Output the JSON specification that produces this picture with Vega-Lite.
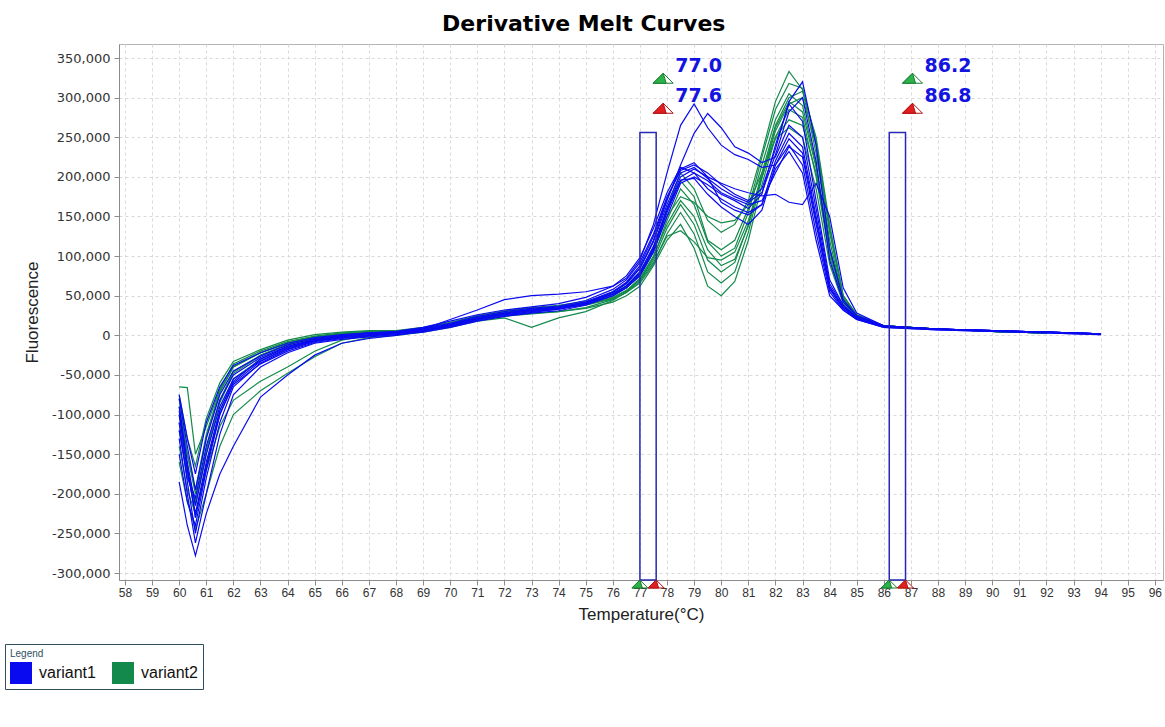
{
"$schema": "https://vega.github.io/schema/vega-lite/v6.json",
"width": 1044, "height": 536,
"autosize": {"type": "none"},
"padding": {"left": 119, "top": 44, "right": 2, "bottom": 147},
"background": "white",
"title": {"text": "Derivative Melt Curves", "font": "DejaVu Sans", "fontSize": 22, "fontWeight": "bold", "color": "#000000", "anchor": "middle", "frame": "bounds", "offset": 8},
"config": {
  "view": {"stroke": "#b4b4b4", "strokeWidth": 1},
  "axis": {"gridColor": "#d9d9d9", "gridDash": [3, 3], "gridWidth": 1, "domainColor": "#8c8c8c", "tickColor": "#8c8c8c", "tickSize": 5, "labelColor": "#333333", "titleColor": "#222222", "titleFontWeight": "normal", "titleFont": "Liberation Sans"}
},
"datasets": {
"curves": [{"c":1,"v":"variant2"},{"c":2,"v":"variant2"},{"c":3,"v":"variant2"},{"c":4,"v":"variant2"},{"c":5,"v":"variant2"},{"c":6,"v":"variant2"},{"c":7,"v":"variant2"},{"c":8,"v":"variant2"},{"c":9,"v":"variant2"},{"c":10,"v":"variant1"},{"c":11,"v":"variant1"},{"c":12,"v":"variant1"},{"c":13,"v":"variant1"},{"c":14,"v":"variant1"},{"c":15,"v":"variant1"},{"c":16,"v":"variant1"},{"c":17,"v":"variant1"},{"c":18,"v":"variant1"},{"c":19,"v":"variant1"}],
"regions": [{"lo":77.0,"hi":77.6},{"lo":86.2,"hi":86.8}],
"markers": [{"label":"77.0","t":77.0,"hi":77.6,"kind":"start"},{"label":"77.6","t":77.6,"hi":77.6,"kind":"end"},{"label":"86.2","t":86.2,"hi":86.8,"kind":"start"},{"label":"86.8","t":86.8,"hi":86.8,"kind":"end"}],
"melt": [
{"c":1,"t":60,"f":-80000},{"c":1,"t":60.3,"f":-150000},{"c":1,"t":60.6,"f":-200000},{"c":1,"t":61,"f":-130000},{"c":1,"t":61.5,"f":-72000},{"c":1,"t":62,"f":-40000},{"c":1,"t":63,"f":-22000},{"c":1,"t":64,"f":-9000},{"c":1,"t":65,"f":-2000},{"c":1,"t":66,"f":2000},{"c":1,"t":67,"f":4000},{"c":1,"t":68,"f":4000},{"c":1,"t":69,"f":8000},{"c":1,"t":70,"f":14000},{"c":1,"t":71,"f":22000},{"c":1,"t":72,"f":28000},{"c":1,"t":73,"f":32000},{"c":1,"t":74,"f":35000},{"c":1,"t":75,"f":40000},{"c":1,"t":76,"f":50000},{"c":1,"t":76.5,"f":60000},{"c":1,"t":77,"f":75000},{"c":1,"t":77.5,"f":105000},{"c":1,"t":78,"f":160000},{"c":1,"t":78.5,"f":205000},{"c":1,"t":79,"f":185000},{"c":1,"t":79.5,"f":145000},{"c":1,"t":80,"f":130000},{"c":1,"t":80.5,"f":140000},{"c":1,"t":81,"f":170000},{"c":1,"t":81.5,"f":230000},{"c":1,"t":82,"f":295000},{"c":1,"t":82.5,"f":333000},{"c":1,"t":83,"f":310000},{"c":1,"t":83.5,"f":230000},{"c":1,"t":84,"f":120000},{"c":1,"t":84.5,"f":45000},{"c":1,"t":85,"f":25000},{"c":1,"t":86,"f":12000},{"c":1,"t":88,"f":8000},{"c":1,"t":90,"f":5000},{"c":1,"t":92,"f":3000},
{"c":2,"t":60,"f":-65000},{"c":2,"t":60.3,"f":-66000},{"c":2,"t":60.6,"f":-150000},{"c":2,"t":61,"f":-115000},{"c":2,"t":61.5,"f":-68000},{"c":2,"t":62,"f":-36000},{"c":2,"t":63,"f":-20000},{"c":2,"t":64,"f":-8000},{"c":2,"t":65,"f":-1000},{"c":2,"t":66,"f":3000},{"c":2,"t":67,"f":5000},{"c":2,"t":68,"f":4000},{"c":2,"t":69,"f":7000},{"c":2,"t":70,"f":12000},{"c":2,"t":71,"f":20000},{"c":2,"t":72,"f":25000},{"c":2,"t":73,"f":28000},{"c":2,"t":74,"f":30000},{"c":2,"t":75,"f":34000},{"c":2,"t":76,"f":42000},{"c":2,"t":76.5,"f":50000},{"c":2,"t":77,"f":62000},{"c":2,"t":77.5,"f":88000},{"c":2,"t":78,"f":120000},{"c":2,"t":78.5,"f":140000},{"c":2,"t":79,"f":110000},{"c":2,"t":79.5,"f":62000},{"c":2,"t":80,"f":50000},{"c":2,"t":80.5,"f":68000},{"c":2,"t":81,"f":120000},{"c":2,"t":81.5,"f":190000},{"c":2,"t":82,"f":250000},{"c":2,"t":82.5,"f":285000},{"c":2,"t":83,"f":275000},{"c":2,"t":83.5,"f":200000},{"c":2,"t":84,"f":100000},{"c":2,"t":84.5,"f":42000},{"c":2,"t":85,"f":24000},{"c":2,"t":86,"f":12000},{"c":2,"t":88,"f":8000},{"c":2,"t":90,"f":5000},{"c":2,"t":92,"f":3000},
{"c":3,"t":60,"f":-160000},{"c":3,"t":60.3,"f":-210000},{"c":3,"t":60.6,"f":-245000},{"c":3,"t":61,"f":-200000},{"c":3,"t":61.5,"f":-140000},{"c":3,"t":62,"f":-100000},{"c":3,"t":63,"f":-70000},{"c":3,"t":64,"f":-48000},{"c":3,"t":65,"f":-27000},{"c":3,"t":66,"f":-10000},{"c":3,"t":67,"f":-3000},{"c":3,"t":68,"f":0},{"c":3,"t":69,"f":4000},{"c":3,"t":70,"f":10000},{"c":3,"t":71,"f":18000},{"c":3,"t":72,"f":22000},{"c":3,"t":73,"f":10000},{"c":3,"t":74,"f":22000},{"c":3,"t":75,"f":30000},{"c":3,"t":76,"f":44000},{"c":3,"t":76.5,"f":55000},{"c":3,"t":77,"f":70000},{"c":3,"t":77.5,"f":95000},{"c":3,"t":78,"f":135000},{"c":3,"t":78.5,"f":165000},{"c":3,"t":79,"f":140000},{"c":3,"t":79.5,"f":95000},{"c":3,"t":80,"f":80000},{"c":3,"t":80.5,"f":92000},{"c":3,"t":81,"f":140000},{"c":3,"t":81.5,"f":205000},{"c":3,"t":82,"f":265000},{"c":3,"t":82.5,"f":300000},{"c":3,"t":83,"f":308000},{"c":3,"t":83.5,"f":250000},{"c":3,"t":84,"f":140000},{"c":3,"t":84.5,"f":50000},{"c":3,"t":85,"f":26000},{"c":3,"t":86,"f":12000},{"c":3,"t":88,"f":8000},{"c":3,"t":90,"f":5000},{"c":3,"t":92,"f":3000},
{"c":4,"t":60,"f":-120000},{"c":4,"t":60.3,"f":-175000},{"c":4,"t":60.6,"f":-215000},{"c":4,"t":61,"f":-150000},{"c":4,"t":61.5,"f":-85000},{"c":4,"t":62,"f":-48000},{"c":4,"t":63,"f":-26000},{"c":4,"t":64,"f":-12000},{"c":4,"t":65,"f":-4000},{"c":4,"t":66,"f":1000},{"c":4,"t":67,"f":4000},{"c":4,"t":68,"f":5000},{"c":4,"t":69,"f":9000},{"c":4,"t":70,"f":15000},{"c":4,"t":71,"f":23000},{"c":4,"t":72,"f":29000},{"c":4,"t":73,"f":33000},{"c":4,"t":74,"f":36000},{"c":4,"t":75,"f":40000},{"c":4,"t":76,"f":48000},{"c":4,"t":76.5,"f":57000},{"c":4,"t":77,"f":70000},{"c":4,"t":77.5,"f":98000},{"c":4,"t":78,"f":145000},{"c":4,"t":78.5,"f":185000},{"c":4,"t":79,"f":165000},{"c":4,"t":79.5,"f":118000},{"c":4,"t":80,"f":100000},{"c":4,"t":80.5,"f":110000},{"c":4,"t":81,"f":155000},{"c":4,"t":81.5,"f":215000},{"c":4,"t":82,"f":272000},{"c":4,"t":82.5,"f":305000},{"c":4,"t":83,"f":290000},{"c":4,"t":83.5,"f":215000},{"c":4,"t":84,"f":110000},{"c":4,"t":84.5,"f":44000},{"c":4,"t":85,"f":24000},{"c":4,"t":86,"f":12000},{"c":4,"t":88,"f":8000},{"c":4,"t":90,"f":5000},{"c":4,"t":92,"f":3000},
{"c":5,"t":60,"f":-100000},{"c":5,"t":60.3,"f":-165000},{"c":5,"t":60.6,"f":-230000},{"c":5,"t":61,"f":-165000},{"c":5,"t":61.5,"f":-95000},{"c":5,"t":62,"f":-55000},{"c":5,"t":63,"f":-30000},{"c":5,"t":64,"f":-14000},{"c":5,"t":65,"f":-5000},{"c":5,"t":66,"f":0},{"c":5,"t":67,"f":3000},{"c":5,"t":68,"f":4000},{"c":5,"t":69,"f":8000},{"c":5,"t":70,"f":13000},{"c":5,"t":71,"f":21000},{"c":5,"t":72,"f":27000},{"c":5,"t":73,"f":31000},{"c":5,"t":74,"f":34000},{"c":5,"t":75,"f":38000},{"c":5,"t":76,"f":46000},{"c":5,"t":76.5,"f":54000},{"c":5,"t":77,"f":66000},{"c":5,"t":77.5,"f":90000},{"c":5,"t":78,"f":128000},{"c":5,"t":78.5,"f":155000},{"c":5,"t":79,"f":128000},{"c":5,"t":79.5,"f":80000},{"c":5,"t":80,"f":66000},{"c":5,"t":80.5,"f":80000},{"c":5,"t":81,"f":130000},{"c":5,"t":81.5,"f":198000},{"c":5,"t":82,"f":258000},{"c":5,"t":82.5,"f":292000},{"c":5,"t":83,"f":300000},{"c":5,"t":83.5,"f":240000},{"c":5,"t":84,"f":130000},{"c":5,"t":84.5,"f":48000},{"c":5,"t":85,"f":25000},{"c":5,"t":86,"f":12000},{"c":5,"t":88,"f":8000},{"c":5,"t":90,"f":5000},{"c":5,"t":92,"f":3000},
{"c":6,"t":60,"f":-90000},{"c":6,"t":60.3,"f":-150000},{"c":6,"t":60.6,"f":-195000},{"c":6,"t":61,"f":-125000},{"c":6,"t":61.5,"f":-70000},{"c":6,"t":62,"f":-40000},{"c":6,"t":63,"f":-22000},{"c":6,"t":64,"f":-10000},{"c":6,"t":65,"f":-2000},{"c":6,"t":66,"f":2000},{"c":6,"t":67,"f":4000},{"c":6,"t":68,"f":5000},{"c":6,"t":69,"f":9000},{"c":6,"t":70,"f":16000},{"c":6,"t":71,"f":25000},{"c":6,"t":72,"f":31000},{"c":6,"t":73,"f":35000},{"c":6,"t":74,"f":38000},{"c":6,"t":75,"f":43000},{"c":6,"t":76,"f":52000},{"c":6,"t":76.5,"f":62000},{"c":6,"t":77,"f":78000},{"c":6,"t":77.5,"f":108000},{"c":6,"t":78,"f":150000},{"c":6,"t":78.5,"f":175000},{"c":6,"t":79,"f":168000},{"c":6,"t":79.5,"f":150000},{"c":6,"t":80,"f":142000},{"c":6,"t":80.5,"f":145000},{"c":6,"t":81,"f":165000},{"c":6,"t":81.5,"f":205000},{"c":6,"t":82,"f":248000},{"c":6,"t":82.5,"f":262000},{"c":6,"t":83,"f":250000},{"c":6,"t":83.5,"f":185000},{"c":6,"t":84,"f":90000},{"c":6,"t":84.5,"f":40000},{"c":6,"t":85,"f":23000},{"c":6,"t":86,"f":12000},{"c":6,"t":88,"f":8000},{"c":6,"t":90,"f":5000},{"c":6,"t":92,"f":3000},
{"c":7,"t":60,"f":-140000},{"c":7,"t":60.3,"f":-195000},{"c":7,"t":60.6,"f":-225000},{"c":7,"t":61,"f":-170000},{"c":7,"t":61.5,"f":-115000},{"c":7,"t":62,"f":-82000},{"c":7,"t":63,"f":-58000},{"c":7,"t":64,"f":-40000},{"c":7,"t":65,"f":-20000},{"c":7,"t":66,"f":-6000},{"c":7,"t":67,"f":0},{"c":7,"t":68,"f":2000},{"c":7,"t":69,"f":6000},{"c":7,"t":70,"f":12000},{"c":7,"t":71,"f":19000},{"c":7,"t":72,"f":24000},{"c":7,"t":73,"f":27000},{"c":7,"t":74,"f":30000},{"c":7,"t":75,"f":35000},{"c":7,"t":76,"f":45000},{"c":7,"t":76.5,"f":54000},{"c":7,"t":77,"f":68000},{"c":7,"t":77.5,"f":92000},{"c":7,"t":78,"f":125000},{"c":7,"t":78.5,"f":132000},{"c":7,"t":79,"f":118000},{"c":7,"t":79.5,"f":98000},{"c":7,"t":80,"f":95000},{"c":7,"t":80.5,"f":105000},{"c":7,"t":81,"f":145000},{"c":7,"t":81.5,"f":200000},{"c":7,"t":82,"f":250000},{"c":7,"t":82.5,"f":272000},{"c":7,"t":83,"f":265000},{"c":7,"t":83.5,"f":205000},{"c":7,"t":84,"f":105000},{"c":7,"t":84.5,"f":44000},{"c":7,"t":85,"f":24000},{"c":7,"t":86,"f":12000},{"c":7,"t":88,"f":8000},{"c":7,"t":90,"f":5000},{"c":7,"t":92,"f":3000},
{"c":8,"t":60,"f":-75000},{"c":8,"t":60.3,"f":-130000},{"c":8,"t":60.6,"f":-165000},{"c":8,"t":61,"f":-105000},{"c":8,"t":61.5,"f":-60000},{"c":8,"t":62,"f":-33000},{"c":8,"t":63,"f":-18000},{"c":8,"t":64,"f":-6000},{"c":8,"t":65,"f":1000},{"c":8,"t":66,"f":4000},{"c":8,"t":67,"f":6000},{"c":8,"t":68,"f":6000},{"c":8,"t":69,"f":10000},{"c":8,"t":70,"f":16000},{"c":8,"t":71,"f":24000},{"c":8,"t":72,"f":30000},{"c":8,"t":73,"f":34000},{"c":8,"t":74,"f":37000},{"c":8,"t":75,"f":42000},{"c":8,"t":76,"f":53000},{"c":8,"t":76.5,"f":63000},{"c":8,"t":77,"f":80000},{"c":8,"t":77.5,"f":112000},{"c":8,"t":78,"f":160000},{"c":8,"t":78.5,"f":195000},{"c":8,"t":79,"f":175000},{"c":8,"t":79.5,"f":120000},{"c":8,"t":80,"f":108000},{"c":8,"t":80.5,"f":120000},{"c":8,"t":81,"f":160000},{"c":8,"t":81.5,"f":225000},{"c":8,"t":82,"f":285000},{"c":8,"t":82.5,"f":318000},{"c":8,"t":83,"f":312000},{"c":8,"t":83.5,"f":245000},{"c":8,"t":84,"f":135000},{"c":8,"t":84.5,"f":50000},{"c":8,"t":85,"f":26000},{"c":8,"t":86,"f":12000},{"c":8,"t":88,"f":8000},{"c":8,"t":90,"f":5000},{"c":8,"t":92,"f":3000},
{"c":9,"t":60,"f":-110000},{"c":9,"t":60.3,"f":-170000},{"c":9,"t":60.6,"f":-210000},{"c":9,"t":61,"f":-145000},{"c":9,"t":61.5,"f":-82000},{"c":9,"t":62,"f":-46000},{"c":9,"t":63,"f":-25000},{"c":9,"t":64,"f":-11000},{"c":9,"t":65,"f":-3000},{"c":9,"t":66,"f":1000},{"c":9,"t":67,"f":3000},{"c":9,"t":68,"f":4000},{"c":9,"t":69,"f":8000},{"c":9,"t":70,"f":14000},{"c":9,"t":71,"f":22000},{"c":9,"t":72,"f":28000},{"c":9,"t":73,"f":32000},{"c":9,"t":74,"f":35000},{"c":9,"t":75,"f":39000},{"c":9,"t":76,"f":47000},{"c":9,"t":76.5,"f":56000},{"c":9,"t":77,"f":72000},{"c":9,"t":77.5,"f":100000},{"c":9,"t":78,"f":140000},{"c":9,"t":78.5,"f":170000},{"c":9,"t":79,"f":150000},{"c":9,"t":79.5,"f":108000},{"c":9,"t":80,"f":88000},{"c":9,"t":80.5,"f":96000},{"c":9,"t":81,"f":138000},{"c":9,"t":81.5,"f":200000},{"c":9,"t":82,"f":262000},{"c":9,"t":82.5,"f":295000},{"c":9,"t":83,"f":282000},{"c":9,"t":83.5,"f":212000},{"c":9,"t":84,"f":108000},{"c":9,"t":84.5,"f":43000},{"c":9,"t":85,"f":24000},{"c":9,"t":86,"f":12000},{"c":9,"t":88,"f":8000},{"c":9,"t":90,"f":5000},{"c":9,"t":92,"f":3000},
{"c":10,"t":60,"f":-185000},{"c":10,"t":60.3,"f":-240000},{"c":10,"t":60.6,"f":-278000},{"c":10,"t":61,"f":-225000},{"c":10,"t":61.5,"f":-175000},{"c":10,"t":62,"f":-140000},{"c":10,"t":63,"f":-78000},{"c":10,"t":64,"f":-50000},{"c":10,"t":65,"f":-25000},{"c":10,"t":66,"f":-10000},{"c":10,"t":67,"f":-4000},{"c":10,"t":68,"f":0},{"c":10,"t":69,"f":5000},{"c":10,"t":70,"f":12000},{"c":10,"t":71,"f":20000},{"c":10,"t":72,"f":26000},{"c":10,"t":73,"f":30000},{"c":10,"t":74,"f":33000},{"c":10,"t":75,"f":40000},{"c":10,"t":76,"f":52000},{"c":10,"t":76.5,"f":62000},{"c":10,"t":77,"f":78000},{"c":10,"t":77.5,"f":108000},{"c":10,"t":78,"f":155000},{"c":10,"t":78.5,"f":195000},{"c":10,"t":79,"f":205000},{"c":10,"t":79.5,"f":195000},{"c":10,"t":80,"f":180000},{"c":10,"t":80.5,"f":172000},{"c":10,"t":81,"f":165000},{"c":10,"t":81.5,"f":170000},{"c":10,"t":82,"f":205000},{"c":10,"t":82.5,"f":238000},{"c":10,"t":83,"f":225000},{"c":10,"t":83.5,"f":140000},{"c":10,"t":84,"f":60000},{"c":10,"t":84.5,"f":35000},{"c":10,"t":85,"f":22000},{"c":10,"t":86,"f":11000},{"c":10,"t":88,"f":8000},{"c":10,"t":90,"f":6000},{"c":10,"t":92,"f":4000},{"c":10,"t":94,"f":2000},
{"c":11,"t":60,"f":-90000},{"c":11,"t":60.3,"f":-160000},{"c":11,"t":60.6,"f":-215000},{"c":11,"t":61,"f":-150000},{"c":11,"t":61.5,"f":-90000},{"c":11,"t":62,"f":-55000},{"c":11,"t":63,"f":-32000},{"c":11,"t":64,"f":-16000},{"c":11,"t":65,"f":-6000},{"c":11,"t":66,"f":-2000},{"c":11,"t":67,"f":1000},{"c":11,"t":68,"f":3000},{"c":11,"t":69,"f":8000},{"c":11,"t":70,"f":20000},{"c":11,"t":71,"f":32000},{"c":11,"t":72,"f":45000},{"c":11,"t":73,"f":50000},{"c":11,"t":74,"f":52000},{"c":11,"t":75,"f":55000},{"c":11,"t":76,"f":62000},{"c":11,"t":76.5,"f":72000},{"c":11,"t":77,"f":95000},{"c":11,"t":77.5,"f":140000},{"c":11,"t":78,"f":205000},{"c":11,"t":78.5,"f":265000},{"c":11,"t":79,"f":292000},{"c":11,"t":79.5,"f":262000},{"c":11,"t":80,"f":240000},{"c":11,"t":80.5,"f":228000},{"c":11,"t":81,"f":222000},{"c":11,"t":81.5,"f":212000},{"c":11,"t":82,"f":215000},{"c":11,"t":82.5,"f":240000},{"c":11,"t":83,"f":215000},{"c":11,"t":83.5,"f":130000},{"c":11,"t":84,"f":55000},{"c":11,"t":84.5,"f":32000},{"c":11,"t":85,"f":20000},{"c":11,"t":86,"f":10000},{"c":11,"t":88,"f":7000},{"c":11,"t":90,"f":5000},{"c":11,"t":92,"f":3000},{"c":11,"t":94,"f":1000},
{"c":12,"t":60,"f":-110000},{"c":12,"t":60.3,"f":-185000},{"c":12,"t":60.6,"f":-250000},{"c":12,"t":61,"f":-180000},{"c":12,"t":61.5,"f":-110000},{"c":12,"t":62,"f":-65000},{"c":12,"t":63,"f":-35000},{"c":12,"t":64,"f":-18000},{"c":12,"t":65,"f":-8000},{"c":12,"t":66,"f":-3000},{"c":12,"t":67,"f":0},{"c":12,"t":68,"f":2000},{"c":12,"t":69,"f":6000},{"c":12,"t":70,"f":14000},{"c":12,"t":71,"f":22000},{"c":12,"t":72,"f":28000},{"c":12,"t":73,"f":33000},{"c":12,"t":74,"f":36000},{"c":12,"t":75,"f":42000},{"c":12,"t":76,"f":55000},{"c":12,"t":76.5,"f":66000},{"c":12,"t":77,"f":85000},{"c":12,"t":77.5,"f":120000},{"c":12,"t":78,"f":170000},{"c":12,"t":78.5,"f":215000},{"c":12,"t":79,"f":255000},{"c":12,"t":79.5,"f":280000},{"c":12,"t":80,"f":262000},{"c":12,"t":80.5,"f":238000},{"c":12,"t":81,"f":230000},{"c":12,"t":81.5,"f":218000},{"c":12,"t":82,"f":225000},{"c":12,"t":82.5,"f":265000},{"c":12,"t":83,"f":250000},{"c":12,"t":83.5,"f":160000},{"c":12,"t":84,"f":65000},{"c":12,"t":84.5,"f":38000},{"c":12,"t":85,"f":22000},{"c":12,"t":86,"f":11000},{"c":12,"t":88,"f":8000},{"c":12,"t":90,"f":6000},{"c":12,"t":92,"f":4000},{"c":12,"t":94,"f":2000},
{"c":13,"t":60,"f":-80000},{"c":13,"t":60.3,"f":-140000},{"c":13,"t":60.6,"f":-195000},{"c":13,"t":61,"f":-130000},{"c":13,"t":61.5,"f":-75000},{"c":13,"t":62,"f":-45000},{"c":13,"t":63,"f":-26000},{"c":13,"t":64,"f":-12000},{"c":13,"t":65,"f":-4000},{"c":13,"t":66,"f":0},{"c":13,"t":67,"f":3000},{"c":13,"t":68,"f":4000},{"c":13,"t":69,"f":9000},{"c":13,"t":70,"f":15000},{"c":13,"t":71,"f":24000},{"c":13,"t":72,"f":30000},{"c":13,"t":73,"f":34000},{"c":13,"t":74,"f":37000},{"c":13,"t":75,"f":44000},{"c":13,"t":76,"f":58000},{"c":13,"t":76.5,"f":70000},{"c":13,"t":77,"f":92000},{"c":13,"t":77.5,"f":128000},{"c":13,"t":78,"f":175000},{"c":13,"t":78.5,"f":208000},{"c":13,"t":79,"f":215000},{"c":13,"t":79.5,"f":205000},{"c":13,"t":80,"f":190000},{"c":13,"t":80.5,"f":178000},{"c":13,"t":81,"f":170000},{"c":13,"t":81.5,"f":185000},{"c":13,"t":82,"f":235000},{"c":13,"t":82.5,"f":295000},{"c":13,"t":83,"f":320000},{"c":13,"t":83.5,"f":240000},{"c":13,"t":84,"f":110000},{"c":13,"t":84.5,"f":45000},{"c":13,"t":85,"f":25000},{"c":13,"t":86,"f":12000},{"c":13,"t":88,"f":8000},{"c":13,"t":90,"f":6000},{"c":13,"t":92,"f":4000},{"c":13,"t":94,"f":2000},
{"c":14,"t":60,"f":-130000},{"c":14,"t":60.3,"f":-200000},{"c":14,"t":60.6,"f":-262000},{"c":14,"t":61,"f":-200000},{"c":14,"t":61.5,"f":-125000},{"c":14,"t":62,"f":-75000},{"c":14,"t":63,"f":-40000},{"c":14,"t":64,"f":-22000},{"c":14,"t":65,"f":-10000},{"c":14,"t":66,"f":-5000},{"c":14,"t":67,"f":-2000},{"c":14,"t":68,"f":1000},{"c":14,"t":69,"f":4000},{"c":14,"t":70,"f":10000},{"c":14,"t":71,"f":18000},{"c":14,"t":72,"f":24000},{"c":14,"t":73,"f":28000},{"c":14,"t":74,"f":31000},{"c":14,"t":75,"f":38000},{"c":14,"t":76,"f":50000},{"c":14,"t":76.5,"f":60000},{"c":14,"t":77,"f":75000},{"c":14,"t":77.5,"f":105000},{"c":14,"t":78,"f":150000},{"c":14,"t":78.5,"f":192000},{"c":14,"t":79,"f":200000},{"c":14,"t":79.5,"f":190000},{"c":14,"t":80,"f":178000},{"c":14,"t":80.5,"f":170000},{"c":14,"t":81,"f":160000},{"c":14,"t":81.5,"f":178000},{"c":14,"t":82,"f":240000},{"c":14,"t":82.5,"f":292000},{"c":14,"t":83,"f":270000},{"c":14,"t":83.5,"f":170000},{"c":14,"t":84,"f":70000},{"c":14,"t":84.5,"f":38000},{"c":14,"t":85,"f":22000},{"c":14,"t":86,"f":11000},{"c":14,"t":88,"f":8000},{"c":14,"t":90,"f":6000},{"c":14,"t":92,"f":4000},{"c":14,"t":94,"f":2000},
{"c":15,"t":60,"f":-100000},{"c":15,"t":60.3,"f":-170000},{"c":15,"t":60.6,"f":-225000},{"c":15,"t":61,"f":-160000},{"c":15,"t":61.5,"f":-95000},{"c":15,"t":62,"f":-58000},{"c":15,"t":63,"f":-30000},{"c":15,"t":64,"f":-15000},{"c":15,"t":65,"f":-6000},{"c":15,"t":66,"f":-1000},{"c":15,"t":67,"f":2000},{"c":15,"t":68,"f":4000},{"c":15,"t":69,"f":8000},{"c":15,"t":70,"f":14000},{"c":15,"t":71,"f":22000},{"c":15,"t":72,"f":28000},{"c":15,"t":73,"f":32000},{"c":15,"t":74,"f":35000},{"c":15,"t":75,"f":40000},{"c":15,"t":76,"f":52000},{"c":15,"t":76.5,"f":62000},{"c":15,"t":77,"f":80000},{"c":15,"t":77.5,"f":112000},{"c":15,"t":78,"f":160000},{"c":15,"t":78.5,"f":200000},{"c":15,"t":79,"f":210000},{"c":15,"t":79.5,"f":200000},{"c":15,"t":80,"f":192000},{"c":15,"t":80.5,"f":185000},{"c":15,"t":81,"f":180000},{"c":15,"t":81.5,"f":176000},{"c":15,"t":82,"f":178000},{"c":15,"t":82.5,"f":168000},{"c":15,"t":83,"f":165000},{"c":15,"t":83.5,"f":192000},{"c":15,"t":84,"f":150000},{"c":15,"t":84.5,"f":60000},{"c":15,"t":85,"f":28000},{"c":15,"t":86,"f":12000},{"c":15,"t":88,"f":8000},{"c":15,"t":90,"f":6000},{"c":15,"t":92,"f":4000},{"c":15,"t":94,"f":2000},
{"c":16,"t":60,"f":-75000},{"c":16,"t":60.3,"f":-130000},{"c":16,"t":60.6,"f":-175000},{"c":16,"t":61,"f":-110000},{"c":16,"t":61.5,"f":-65000},{"c":16,"t":62,"f":-38000},{"c":16,"t":63,"f":-22000},{"c":16,"t":64,"f":-10000},{"c":16,"t":65,"f":-3000},{"c":16,"t":66,"f":1000},{"c":16,"t":67,"f":3000},{"c":16,"t":68,"f":5000},{"c":16,"t":69,"f":10000},{"c":16,"t":70,"f":18000},{"c":16,"t":71,"f":26000},{"c":16,"t":72,"f":32000},{"c":16,"t":73,"f":36000},{"c":16,"t":74,"f":40000},{"c":16,"t":75,"f":48000},{"c":16,"t":76,"f":62000},{"c":16,"t":76.5,"f":75000},{"c":16,"t":77,"f":98000},{"c":16,"t":77.5,"f":135000},{"c":16,"t":78,"f":180000},{"c":16,"t":78.5,"f":212000},{"c":16,"t":79,"f":205000},{"c":16,"t":79.5,"f":185000},{"c":16,"t":80,"f":172000},{"c":16,"t":80.5,"f":162000},{"c":16,"t":81,"f":155000},{"c":16,"t":81.5,"f":165000},{"c":16,"t":82,"f":210000},{"c":16,"t":82.5,"f":232000},{"c":16,"t":83,"f":205000},{"c":16,"t":83.5,"f":120000},{"c":16,"t":84,"f":50000},{"c":16,"t":84.5,"f":32000},{"c":16,"t":85,"f":20000},{"c":16,"t":86,"f":10000},{"c":16,"t":88,"f":7000},{"c":16,"t":90,"f":5000},{"c":16,"t":92,"f":3000},{"c":16,"t":94,"f":1000},
{"c":17,"t":60,"f":-150000},{"c":17,"t":60.3,"f":-210000},{"c":17,"t":60.6,"f":-240000},{"c":17,"t":61,"f":-170000},{"c":17,"t":61.5,"f":-100000},{"c":17,"t":62,"f":-62000},{"c":17,"t":63,"f":-36000},{"c":17,"t":64,"f":-20000},{"c":17,"t":65,"f":-9000},{"c":17,"t":66,"f":-4000},{"c":17,"t":67,"f":-1000},{"c":17,"t":68,"f":2000},{"c":17,"t":69,"f":6000},{"c":17,"t":70,"f":11000},{"c":17,"t":71,"f":19000},{"c":17,"t":72,"f":25000},{"c":17,"t":73,"f":29000},{"c":17,"t":74,"f":33000},{"c":17,"t":75,"f":39000},{"c":17,"t":76,"f":50000},{"c":17,"t":76.5,"f":60000},{"c":17,"t":77,"f":76000},{"c":17,"t":77.5,"f":110000},{"c":17,"t":78,"f":158000},{"c":17,"t":78.5,"f":196000},{"c":17,"t":79,"f":198000},{"c":17,"t":79.5,"f":178000},{"c":17,"t":80,"f":162000},{"c":17,"t":80.5,"f":150000},{"c":17,"t":81,"f":140000},{"c":17,"t":81.5,"f":158000},{"c":17,"t":82,"f":215000},{"c":17,"t":82.5,"f":248000},{"c":17,"t":83,"f":230000},{"c":17,"t":83.5,"f":145000},{"c":17,"t":84,"f":58000},{"c":17,"t":84.5,"f":34000},{"c":17,"t":85,"f":21000},{"c":17,"t":86,"f":11000},{"c":17,"t":88,"f":8000},{"c":17,"t":90,"f":6000},{"c":17,"t":92,"f":4000},{"c":17,"t":94,"f":2000},
{"c":18,"t":60,"f":-120000},{"c":18,"t":60.3,"f":-180000},{"c":18,"t":60.6,"f":-205000},{"c":18,"t":61,"f":-140000},{"c":18,"t":61.5,"f":-82000},{"c":18,"t":62,"f":-50000},{"c":18,"t":63,"f":-28000},{"c":18,"t":64,"f":-14000},{"c":18,"t":65,"f":-5000},{"c":18,"t":66,"f":-1000},{"c":18,"t":67,"f":2000},{"c":18,"t":68,"f":3000},{"c":18,"t":69,"f":7000},{"c":18,"t":70,"f":13000},{"c":18,"t":71,"f":21000},{"c":18,"t":72,"f":27000},{"c":18,"t":73,"f":31000},{"c":18,"t":74,"f":34000},{"c":18,"t":75,"f":41000},{"c":18,"t":76,"f":54000},{"c":18,"t":76.5,"f":65000},{"c":18,"t":77,"f":84000},{"c":18,"t":77.5,"f":118000},{"c":18,"t":78,"f":165000},{"c":18,"t":78.5,"f":205000},{"c":18,"t":79,"f":212000},{"c":18,"t":79.5,"f":198000},{"c":18,"t":80,"f":185000},{"c":18,"t":80.5,"f":175000},{"c":18,"t":81,"f":168000},{"c":18,"t":81.5,"f":180000},{"c":18,"t":82,"f":228000},{"c":18,"t":82.5,"f":282000},{"c":18,"t":83,"f":300000},{"c":18,"t":83.5,"f":220000},{"c":18,"t":84,"f":95000},{"c":18,"t":84.5,"f":42000},{"c":18,"t":85,"f":24000},{"c":18,"t":86,"f":12000},{"c":18,"t":88,"f":8000},{"c":18,"t":90,"f":6000},{"c":18,"t":92,"f":4000},{"c":18,"t":94,"f":2000},
{"c":19,"t":60,"f":-95000},{"c":19,"t":60.3,"f":-165000},{"c":19,"t":60.6,"f":-230000},{"c":19,"t":61,"f":-165000},{"c":19,"t":61.5,"f":-100000},{"c":19,"t":62,"f":-60000},{"c":19,"t":63,"f":-33000},{"c":19,"t":64,"f":-17000},{"c":19,"t":65,"f":-7000},{"c":19,"t":66,"f":-3000},{"c":19,"t":67,"f":0},{"c":19,"t":68,"f":3000},{"c":19,"t":69,"f":7000},{"c":19,"t":70,"f":13000},{"c":19,"t":71,"f":21000},{"c":19,"t":72,"f":27000},{"c":19,"t":73,"f":31000},{"c":19,"t":74,"f":35000},{"c":19,"t":75,"f":42000},{"c":19,"t":76,"f":55000},{"c":19,"t":76.5,"f":67000},{"c":19,"t":77,"f":88000},{"c":19,"t":77.5,"f":125000},{"c":19,"t":78,"f":172000},{"c":19,"t":78.5,"f":210000},{"c":19,"t":79,"f":218000},{"c":19,"t":79.5,"f":200000},{"c":19,"t":80,"f":168000},{"c":19,"t":80.5,"f":158000},{"c":19,"t":81,"f":152000},{"c":19,"t":81.5,"f":165000},{"c":19,"t":82,"f":220000},{"c":19,"t":82.5,"f":255000},{"c":19,"t":83,"f":238000},{"c":19,"t":83.5,"f":150000},{"c":19,"t":84,"f":62000},{"c":19,"t":84.5,"f":36000},{"c":19,"t":85,"f":22000},{"c":19,"t":86,"f":11000},{"c":19,"t":88,"f":8000},{"c":19,"t":90,"f":6000},{"c":19,"t":92,"f":4000},{"c":19,"t":94,"f":2000}
]
},
"layer": [
{
  "data": {"name": "melt"},
  "transform": [{"lookup": "c", "from": {"data": {"name": "curves"}, "key": "c", "fields": ["v"]}}],
  "mark": {"type": "line", "strokeWidth": 1.2, "clip": true},
  "encoding": {
    "x": {"field": "t", "type": "quantitative", "scale": {"domain": [57.78, 96.3], "nice": false, "zero": false},
      "axis": {"title": "Temperature(°C)", "values": [58,59,60,61,62,63,64,65,66,67,68,69,70,71,72,73,74,75,76,77,78,79,80,81,82,83,84,85,86,87,88,89,90,91,92,93,94,95,96], "format": "d", "labelFont": "Liberation Sans Narrow, Liberation Sans", "labelFontSize": 12, "labelPadding": 2, "labelOverlap": false, "labelFlush": false, "titleFontSize": 17, "titlePadding": 8}},
    "y": {"field": "f", "type": "quantitative", "scale": {"domain": [-308800, 367700], "nice": false, "zero": false},
      "axis": {"title": "Fluorescence", "values": [-300000,-250000,-200000,-150000,-100000,-50000,0,50000,100000,150000,200000,250000,300000,350000], "labelExpr": "replace(format(datum.value, ','), '\u2212', '-')", "labelFont": "DejaVu Sans", "labelFontSize": 13, "labelPadding": 4, "labelOverlap": false, "titleFontSize": 17, "titlePadding": 10}},
    "color": {"field": "v", "type": "nominal", "scale": {"domain": ["variant1", "variant2"], "range": ["#0a0af0", "#138a4b"]},
      "legend": {"title": "Legend", "orient": "none", "legendX": -114, "legendY": 600, "direction": "horizontal", "symbolType": "square", "symbolSize": 484, "symbolStrokeWidth": 0, "symbolOpacity": 1, "labelFont": "Liberation Sans", "labelFontSize": 16, "labelColor": "#111111", "labelOffset": 7, "columnPadding": 16, "titleFont": "Liberation Sans", "titleFontSize": 10, "titleFontWeight": "normal", "titleColor": "#2f4f5f", "titlePadding": 3, "strokeColor": "#2f4f5f", "padding": 5,
        "encode": {"symbols": {"update": {"fill": {"scale": "color", "field": "value"}, "stroke": {"scale": "color", "field": "value"}, "opacity": {"value": 1}}}}}},
    "detail": {"field": "c", "type": "nominal"}
  }
},
{
  "data": {"name": "regions"},
  "mark": {"type": "rect", "fill": "transparent", "stroke": "#2828b4", "strokeWidth": 1.5},
  "encoding": {
    "x": {"field": "lo", "type": "quantitative", "scale": {"domain": [57.78, 96.3], "nice": false, "zero": false},
      "axis": {"title": "Temperature(°C)", "values": [58,59,60,61,62,63,64,65,66,67,68,69,70,71,72,73,74,75,76,77,78,79,80,81,82,83,84,85,86,87,88,89,90,91,92,93,94,95,96], "format": "d", "labelFont": "Liberation Sans Narrow, Liberation Sans", "labelFontSize": 12, "labelPadding": 2, "labelOverlap": false, "labelFlush": false, "titleFontSize": 17, "titlePadding": 8}},
    "x2": {"field": "hi"},
    "y": {"datum": -308800, "type": "quantitative", "scale": {"domain": [-308800, 367700], "nice": false, "zero": false},
      "axis": {"title": "Fluorescence", "values": [-300000,-250000,-200000,-150000,-100000,-50000,0,50000,100000,150000,200000,250000,300000,350000], "labelExpr": "replace(format(datum.value, ','), '\u2212', '-')", "labelFont": "DejaVu Sans", "labelFontSize": 13, "labelPadding": 4, "labelOverlap": false, "titleFontSize": 17, "titlePadding": 10}},
    "y2": {"datum": 256000}
  }
},
{
  "data": {"name": "markers"},
  "mark": {"type": "point", "shape": "M0,-0.5L1,0.5L-1,0.5Z", "size": 256, "filled": true, "fill": "white", "strokeWidth": 1, "opacity": 1, "yOffset": 4},
  "encoding": {
    "x": {"field": "t", "type": "quantitative", "scale": {"domain": [57.78, 96.3], "nice": false, "zero": false},
      "axis": {"title": "Temperature(°C)", "values": [58,59,60,61,62,63,64,65,66,67,68,69,70,71,72,73,74,75,76,77,78,79,80,81,82,83,84,85,86,87,88,89,90,91,92,93,94,95,96], "format": "d", "labelFont": "Liberation Sans Narrow, Liberation Sans", "labelFontSize": 12, "labelPadding": 2, "labelOverlap": false, "labelFlush": false, "titleFontSize": 17, "titlePadding": 8}},
    "y": {"datum": -308800, "type": "quantitative", "scale": {"domain": [-308800, 367700], "nice": false, "zero": false},
      "axis": {"title": "Fluorescence", "values": [-300000,-250000,-200000,-150000,-100000,-50000,0,50000,100000,150000,200000,250000,300000,350000], "labelExpr": "replace(format(datum.value, ','), '\u2212', '-')", "labelFont": "DejaVu Sans", "labelFontSize": 13, "labelPadding": 4, "labelOverlap": false, "titleFontSize": 17, "titlePadding": 10}},
    "stroke": {"field": "kind", "type": "nominal", "scale": {"domain": ["start", "end"], "range": ["#1a7a30", "#b01010"]}, "legend": null}
  }
},
{
  "data": {"name": "markers"},
  "mark": {"type": "point", "shape": "M0,-0.5L0.3,0.5L-1,0.5Z", "size": 256, "filled": true, "strokeWidth": 1, "opacity": 1, "yOffset": 4},
  "encoding": {
    "x": {"field": "t", "type": "quantitative", "scale": {"domain": [57.78, 96.3], "nice": false, "zero": false},
      "axis": {"title": "Temperature(°C)", "values": [58,59,60,61,62,63,64,65,66,67,68,69,70,71,72,73,74,75,76,77,78,79,80,81,82,83,84,85,86,87,88,89,90,91,92,93,94,95,96], "format": "d", "labelFont": "Liberation Sans Narrow, Liberation Sans", "labelFontSize": 12, "labelPadding": 2, "labelOverlap": false, "labelFlush": false, "titleFontSize": 17, "titlePadding": 8}},
    "y": {"datum": -308800, "type": "quantitative", "scale": {"domain": [-308800, 367700], "nice": false, "zero": false},
      "axis": {"title": "Fluorescence", "values": [-300000,-250000,-200000,-150000,-100000,-50000,0,50000,100000,150000,200000,250000,300000,350000], "labelExpr": "replace(format(datum.value, ','), '\u2212', '-')", "labelFont": "DejaVu Sans", "labelFontSize": 13, "labelPadding": 4, "labelOverlap": false, "titleFontSize": 17, "titlePadding": 10}},
    "fill": {"field": "kind", "type": "nominal", "scale": {"domain": ["start", "end"], "range": ["#2bb34a", "#e02020"]}, "legend": null},
    "stroke": {"field": "kind", "type": "nominal", "scale": {"domain": ["start", "end"], "range": ["#1a7a30", "#b01010"]}, "legend": null}
  }
},
{
  "data": {"name": "markers"},
  "transform": [{"filter": "datum.kind == 'start'"}],
  "mark": {"type": "point", "shape": "M0,-0.5L1,0.5L-1,0.5Z", "size": 400, "filled": true, "fill": "white", "stroke": "#1a7a30", "strokeWidth": 1, "opacity": 1, "xOffset": 7},
  "encoding": {
    "x": {"field": "hi", "type": "quantitative", "scale": {"domain": [57.78, 96.3], "nice": false, "zero": false},
      "axis": {"title": "Temperature(°C)", "values": [58,59,60,61,62,63,64,65,66,67,68,69,70,71,72,73,74,75,76,77,78,79,80,81,82,83,84,85,86,87,88,89,90,91,92,93,94,95,96], "format": "d", "labelFont": "Liberation Sans Narrow, Liberation Sans", "labelFontSize": 12, "labelPadding": 2, "labelOverlap": false, "labelFlush": false, "titleFontSize": 17, "titlePadding": 8}},
    "y": {"datum": 324500, "type": "quantitative", "scale": {"domain": [-308800, 367700], "nice": false, "zero": false},
      "axis": {"title": "Fluorescence", "values": [-300000,-250000,-200000,-150000,-100000,-50000,0,50000,100000,150000,200000,250000,300000,350000], "labelExpr": "replace(format(datum.value, ','), '\u2212', '-')", "labelFont": "DejaVu Sans", "labelFontSize": 13, "labelPadding": 4, "labelOverlap": false, "titleFontSize": 17, "titlePadding": 10}}
  }
},
{
  "data": {"name": "markers"},
  "transform": [{"filter": "datum.kind == 'start'"}],
  "mark": {"type": "point", "shape": "M0,-0.5L0.3,0.5L-1,0.5Z", "size": 400, "filled": true, "fill": "#2bb34a", "stroke": "#1a7a30", "strokeWidth": 1, "opacity": 1, "xOffset": 7},
  "encoding": {
    "x": {"field": "hi", "type": "quantitative", "scale": {"domain": [57.78, 96.3], "nice": false, "zero": false},
      "axis": {"title": "Temperature(°C)", "values": [58,59,60,61,62,63,64,65,66,67,68,69,70,71,72,73,74,75,76,77,78,79,80,81,82,83,84,85,86,87,88,89,90,91,92,93,94,95,96], "format": "d", "labelFont": "Liberation Sans Narrow, Liberation Sans", "labelFontSize": 12, "labelPadding": 2, "labelOverlap": false, "labelFlush": false, "titleFontSize": 17, "titlePadding": 8}},
    "y": {"datum": 324500, "type": "quantitative", "scale": {"domain": [-308800, 367700], "nice": false, "zero": false},
      "axis": {"title": "Fluorescence", "values": [-300000,-250000,-200000,-150000,-100000,-50000,0,50000,100000,150000,200000,250000,300000,350000], "labelExpr": "replace(format(datum.value, ','), '\u2212', '-')", "labelFont": "DejaVu Sans", "labelFontSize": 13, "labelPadding": 4, "labelOverlap": false, "titleFontSize": 17, "titlePadding": 10}}
  }
},
{
  "data": {"name": "markers"},
  "transform": [{"filter": "datum.kind == 'end'"}],
  "mark": {"type": "point", "shape": "M0,-0.5L1,0.5L-1,0.5Z", "size": 400, "filled": true, "fill": "white", "stroke": "#b01010", "strokeWidth": 1, "opacity": 1, "xOffset": 7},
  "encoding": {
    "x": {"field": "hi", "type": "quantitative", "scale": {"domain": [57.78, 96.3], "nice": false, "zero": false},
      "axis": {"title": "Temperature(°C)", "values": [58,59,60,61,62,63,64,65,66,67,68,69,70,71,72,73,74,75,76,77,78,79,80,81,82,83,84,85,86,87,88,89,90,91,92,93,94,95,96], "format": "d", "labelFont": "Liberation Sans Narrow, Liberation Sans", "labelFontSize": 12, "labelPadding": 2, "labelOverlap": false, "labelFlush": false, "titleFontSize": 17, "titlePadding": 8}},
    "y": {"datum": 286600, "type": "quantitative", "scale": {"domain": [-308800, 367700], "nice": false, "zero": false},
      "axis": {"title": "Fluorescence", "values": [-300000,-250000,-200000,-150000,-100000,-50000,0,50000,100000,150000,200000,250000,300000,350000], "labelExpr": "replace(format(datum.value, ','), '\u2212', '-')", "labelFont": "DejaVu Sans", "labelFontSize": 13, "labelPadding": 4, "labelOverlap": false, "titleFontSize": 17, "titlePadding": 10}}
  }
},
{
  "data": {"name": "markers"},
  "transform": [{"filter": "datum.kind == 'end'"}],
  "mark": {"type": "point", "shape": "M0,-0.5L0.3,0.5L-1,0.5Z", "size": 400, "filled": true, "fill": "#e02020", "stroke": "#b01010", "strokeWidth": 1, "opacity": 1, "xOffset": 7},
  "encoding": {
    "x": {"field": "hi", "type": "quantitative", "scale": {"domain": [57.78, 96.3], "nice": false, "zero": false},
      "axis": {"title": "Temperature(°C)", "values": [58,59,60,61,62,63,64,65,66,67,68,69,70,71,72,73,74,75,76,77,78,79,80,81,82,83,84,85,86,87,88,89,90,91,92,93,94,95,96], "format": "d", "labelFont": "Liberation Sans Narrow, Liberation Sans", "labelFontSize": 12, "labelPadding": 2, "labelOverlap": false, "labelFlush": false, "titleFontSize": 17, "titlePadding": 8}},
    "y": {"datum": 286600, "type": "quantitative", "scale": {"domain": [-308800, 367700], "nice": false, "zero": false},
      "axis": {"title": "Fluorescence", "values": [-300000,-250000,-200000,-150000,-100000,-50000,0,50000,100000,150000,200000,250000,300000,350000], "labelExpr": "replace(format(datum.value, ','), '\u2212', '-')", "labelFont": "DejaVu Sans", "labelFontSize": 13, "labelPadding": 4, "labelOverlap": false, "titleFontSize": 17, "titlePadding": 10}}
  }
},
{
  "data": {"name": "markers"},
  "transform": [{"filter": "datum.kind == 'start'"}],
  "mark": {"type": "text", "align": "left", "baseline": "middle", "dx": 19, "font": "DejaVu Sans", "fontSize": 19, "fontWeight": "bold", "color": "#1414e0"},
  "encoding": {
    "x": {"field": "hi", "type": "quantitative", "scale": {"domain": [57.78, 96.3], "nice": false, "zero": false},
      "axis": {"title": "Temperature(°C)", "values": [58,59,60,61,62,63,64,65,66,67,68,69,70,71,72,73,74,75,76,77,78,79,80,81,82,83,84,85,86,87,88,89,90,91,92,93,94,95,96], "format": "d", "labelFont": "Liberation Sans Narrow, Liberation Sans", "labelFontSize": 12, "labelPadding": 2, "labelOverlap": false, "labelFlush": false, "titleFontSize": 17, "titlePadding": 8}},
    "y": {"datum": 340000, "type": "quantitative", "scale": {"domain": [-308800, 367700], "nice": false, "zero": false},
      "axis": {"title": "Fluorescence", "values": [-300000,-250000,-200000,-150000,-100000,-50000,0,50000,100000,150000,200000,250000,300000,350000], "labelExpr": "replace(format(datum.value, ','), '\u2212', '-')", "labelFont": "DejaVu Sans", "labelFontSize": 13, "labelPadding": 4, "labelOverlap": false, "titleFontSize": 17, "titlePadding": 10}},
    "text": {"field": "label"}
  }
},
{
  "data": {"name": "markers"},
  "transform": [{"filter": "datum.kind == 'end'"}],
  "mark": {"type": "text", "align": "left", "baseline": "middle", "dx": 19, "font": "DejaVu Sans", "fontSize": 19, "fontWeight": "bold", "color": "#1414e0"},
  "encoding": {
    "x": {"field": "hi", "type": "quantitative", "scale": {"domain": [57.78, 96.3], "nice": false, "zero": false},
      "axis": {"title": "Temperature(°C)", "values": [58,59,60,61,62,63,64,65,66,67,68,69,70,71,72,73,74,75,76,77,78,79,80,81,82,83,84,85,86,87,88,89,90,91,92,93,94,95,96], "format": "d", "labelFont": "Liberation Sans Narrow, Liberation Sans", "labelFontSize": 12, "labelPadding": 2, "labelOverlap": false, "labelFlush": false, "titleFontSize": 17, "titlePadding": 8}},
    "y": {"datum": 302000, "type": "quantitative", "scale": {"domain": [-308800, 367700], "nice": false, "zero": false},
      "axis": {"title": "Fluorescence", "values": [-300000,-250000,-200000,-150000,-100000,-50000,0,50000,100000,150000,200000,250000,300000,350000], "labelExpr": "replace(format(datum.value, ','), '\u2212', '-')", "labelFont": "DejaVu Sans", "labelFontSize": 13, "labelPadding": 4, "labelOverlap": false, "titleFontSize": 17, "titlePadding": 10}},
    "text": {"field": "label"}
  }
}
]
}
